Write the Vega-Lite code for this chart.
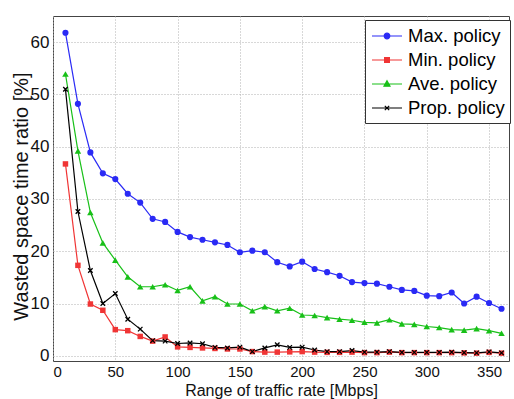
{
  "$schema": "https://vega.github.io/schema/vega-lite/v6.json",
  "width": 456,
  "height": 345,
  "autosize": {"type": "none"},
  "padding": {"left": 53, "top": 16, "right": 5, "bottom": 38},
  "background": "white",
  "config": {
    "font": "Liberation Sans",
    "view": {"stroke": "#444", "strokeWidth": 1},
    "axis": {
      "domain": false,
      "ticks": false,
      "gridColor": "#b0b0b0",
      "gridDash": [1, 2],
      "gridWidth": 1,
      "labelColor": "#111",
      "titleColor": "#111",
      "titleFontWeight": "normal"
    }
  },
  "datasets": {
    "rates": [
      {"x":10,"series":"Max. policy","y":61.8},{"x":20,"series":"Max. policy","y":48.2},{"x":30,"series":"Max. policy","y":38.9},{"x":40,"series":"Max. policy","y":34.9},{"x":50,"series":"Max. policy","y":33.8},{"x":60,"series":"Max. policy","y":31.0},{"x":70,"series":"Max. policy","y":29.3},{"x":80,"series":"Max. policy","y":26.2},{"x":90,"series":"Max. policy","y":25.6},{"x":100,"series":"Max. policy","y":23.7},{"x":110,"series":"Max. policy","y":22.7},{"x":120,"series":"Max. policy","y":22.2},{"x":130,"series":"Max. policy","y":21.7},{"x":140,"series":"Max. policy","y":21.2},{"x":150,"series":"Max. policy","y":19.8},{"x":160,"series":"Max. policy","y":20.1},{"x":170,"series":"Max. policy","y":19.8},{"x":180,"series":"Max. policy","y":17.9},{"x":190,"series":"Max. policy","y":17.1},{"x":200,"series":"Max. policy","y":18.0},{"x":210,"series":"Max. policy","y":16.6},{"x":220,"series":"Max. policy","y":16.0},{"x":230,"series":"Max. policy","y":15.3},{"x":240,"series":"Max. policy","y":14.1},{"x":250,"series":"Max. policy","y":13.9},{"x":260,"series":"Max. policy","y":13.8},{"x":270,"series":"Max. policy","y":13.2},{"x":280,"series":"Max. policy","y":12.6},{"x":290,"series":"Max. policy","y":12.4},{"x":300,"series":"Max. policy","y":11.5},{"x":310,"series":"Max. policy","y":11.4},{"x":320,"series":"Max. policy","y":12.1},{"x":330,"series":"Max. policy","y":10.0},{"x":340,"series":"Max. policy","y":11.3},{"x":350,"series":"Max. policy","y":10.1},{"x":360,"series":"Max. policy","y":9.0},
      {"x":10,"series":"Min. policy","y":36.7},{"x":20,"series":"Min. policy","y":17.3},{"x":30,"series":"Min. policy","y":9.9},{"x":40,"series":"Min. policy","y":8.7},{"x":50,"series":"Min. policy","y":5.0},{"x":60,"series":"Min. policy","y":4.8},{"x":70,"series":"Min. policy","y":3.7},{"x":80,"series":"Min. policy","y":2.8},{"x":90,"series":"Min. policy","y":3.6},{"x":100,"series":"Min. policy","y":1.7},{"x":110,"series":"Min. policy","y":1.6},{"x":120,"series":"Min. policy","y":1.5},{"x":130,"series":"Min. policy","y":1.4},{"x":140,"series":"Min. policy","y":1.3},{"x":150,"series":"Min. policy","y":1.3},{"x":160,"series":"Min. policy","y":0.8},{"x":170,"series":"Min. policy","y":0.7},{"x":180,"series":"Min. policy","y":0.7},{"x":190,"series":"Min. policy","y":0.75},{"x":200,"series":"Min. policy","y":0.8},{"x":210,"series":"Min. policy","y":0.7},{"x":220,"series":"Min. policy","y":0.65},{"x":230,"series":"Min. policy","y":0.65},{"x":240,"series":"Min. policy","y":0.7},{"x":250,"series":"Min. policy","y":0.6},{"x":260,"series":"Min. policy","y":0.6},{"x":270,"series":"Min. policy","y":0.7},{"x":280,"series":"Min. policy","y":0.6},{"x":290,"series":"Min. policy","y":0.6},{"x":300,"series":"Min. policy","y":0.6},{"x":310,"series":"Min. policy","y":0.6},{"x":320,"series":"Min. policy","y":0.6},{"x":330,"series":"Min. policy","y":0.55},{"x":340,"series":"Min. policy","y":0.5},{"x":350,"series":"Min. policy","y":0.65},{"x":360,"series":"Min. policy","y":0.5},
      {"x":10,"series":"Ave. policy","y":53.9},{"x":20,"series":"Ave. policy","y":39.2},{"x":30,"series":"Ave. policy","y":27.4},{"x":40,"series":"Ave. policy","y":21.6},{"x":50,"series":"Ave. policy","y":18.3},{"x":60,"series":"Ave. policy","y":15.1},{"x":70,"series":"Ave. policy","y":13.2},{"x":80,"series":"Ave. policy","y":13.2},{"x":90,"series":"Ave. policy","y":13.6},{"x":100,"series":"Ave. policy","y":12.5},{"x":110,"series":"Ave. policy","y":13.2},{"x":120,"series":"Ave. policy","y":10.5},{"x":130,"series":"Ave. policy","y":11.3},{"x":140,"series":"Ave. policy","y":9.9},{"x":150,"series":"Ave. policy","y":9.9},{"x":160,"series":"Ave. policy","y":8.6},{"x":170,"series":"Ave. policy","y":9.4},{"x":180,"series":"Ave. policy","y":8.6},{"x":190,"series":"Ave. policy","y":9.1},{"x":200,"series":"Ave. policy","y":7.8},{"x":210,"series":"Ave. policy","y":7.7},{"x":220,"series":"Ave. policy","y":7.3},{"x":230,"series":"Ave. policy","y":7.0},{"x":240,"series":"Ave. policy","y":6.8},{"x":250,"series":"Ave. policy","y":6.4},{"x":260,"series":"Ave. policy","y":6.3},{"x":270,"series":"Ave. policy","y":6.9},{"x":280,"series":"Ave. policy","y":6.1},{"x":290,"series":"Ave. policy","y":6.0},{"x":300,"series":"Ave. policy","y":5.6},{"x":310,"series":"Ave. policy","y":5.4},{"x":320,"series":"Ave. policy","y":5.0},{"x":330,"series":"Ave. policy","y":4.9},{"x":340,"series":"Ave. policy","y":5.2},{"x":350,"series":"Ave. policy","y":4.8},{"x":360,"series":"Ave. policy","y":4.3},
      {"x":10,"series":"Prop. policy","y":51.0},{"x":20,"series":"Prop. policy","y":27.6},{"x":30,"series":"Prop. policy","y":16.3},{"x":40,"series":"Prop. policy","y":10.0},{"x":50,"series":"Prop. policy","y":11.9},{"x":60,"series":"Prop. policy","y":7.0},{"x":70,"series":"Prop. policy","y":5.1},{"x":80,"series":"Prop. policy","y":2.9},{"x":90,"series":"Prop. policy","y":2.8},{"x":100,"series":"Prop. policy","y":2.35},{"x":110,"series":"Prop. policy","y":2.45},{"x":120,"series":"Prop. policy","y":2.3},{"x":130,"series":"Prop. policy","y":1.6},{"x":140,"series":"Prop. policy","y":1.5},{"x":150,"series":"Prop. policy","y":1.65},{"x":160,"series":"Prop. policy","y":0.8},{"x":170,"series":"Prop. policy","y":1.5},{"x":180,"series":"Prop. policy","y":2.1},{"x":190,"series":"Prop. policy","y":1.6},{"x":200,"series":"Prop. policy","y":1.65},{"x":210,"series":"Prop. policy","y":1.1},{"x":220,"series":"Prop. policy","y":0.8},{"x":230,"series":"Prop. policy","y":0.8},{"x":240,"series":"Prop. policy","y":1.0},{"x":250,"series":"Prop. policy","y":0.7},{"x":260,"series":"Prop. policy","y":0.7},{"x":270,"series":"Prop. policy","y":0.8},{"x":280,"series":"Prop. policy","y":0.65},{"x":290,"series":"Prop. policy","y":0.65},{"x":300,"series":"Prop. policy","y":0.65},{"x":310,"series":"Prop. policy","y":0.65},{"x":320,"series":"Prop. policy","y":0.7},{"x":330,"series":"Prop. policy","y":0.6},{"x":340,"series":"Prop. policy","y":0.55},{"x":350,"series":"Prop. policy","y":0.75},{"x":360,"series":"Prop. policy","y":0.55}
    ]
  },
  "data": {"name": "rates"},
  "encoding": {
    "x": {
      "field": "x", "type": "quantitative",
      "scale": {"domain": [0, 366], "nice": false, "zero": false},
      "axis": {"values": [0,50,100,150,200,250,300,350], "title": "Range of traffic rate [Mbps]", "labelFontSize": 15, "titleFontSize": 16, "labelPadding": 3, "titlePadding": 3}
    },
    "y": {
      "field": "y", "type": "quantitative",
      "scale": {"domain": [-1, 65], "nice": false, "zero": false},
      "axis": {"values": [0,10,20,30,40,50,60], "title": "Wasted space time ratio [%]", "labelFontSize": 17, "titleFontSize": 20, "labelPadding": 4, "titleX": -22, "titleY": 180, "titleBaseline": "bottom"}
    },
    "color": {
      "field": "series", "type": "nominal",
      "scale": {"domain": ["Max. policy","Min. policy","Ave. policy","Prop. policy"], "range": ["#2a2af5","#f03535","#18c018","#000000"]},
      "legend": {
        "title": null,
        "orient": "none",
        "legendX": 312,
        "legendY": 4,
        "direction": "vertical",
        "padding": 5,
        "fillColor": "white",
        "strokeColor": "#333",
        "labelFontSize": 18.5,
        "labelColor": "#000",
        "labelFont": "Liberation Sans",
        "symbolSize": 400,
        "symbolOffset": 6,
        "labelOffset": 10,
        "rowPadding": 3,
        "labelLimit": 300,
        "encode": {
          "symbols": {
            "update": {
              "shape": {"signal": "datum.value == 'Max. policy' ? 'M-1.5,0H1.5M-0.28,0A0.28,0.28 0 1,0 0.28,0A0.28,0.28 0 1,0 -0.28,0Z' : datum.value == 'Min. policy' ? 'M-1.5,0H1.5M-0.24,-0.24H0.24V0.24H-0.24Z' : datum.value == 'Ave. policy' ? 'M-1.5,0H1.5M0,-0.32L0.3,0.22L-0.3,0.22Z' : 'M-1.5,0H1.5M-0.22,-0.22L0.22,0.22M-0.22,0.22L0.22,-0.22'"},
              "fill": {"signal": "scale('color', datum.value)"},
              "stroke": {"signal": "scale('color', datum.value)"},
              "strokeWidth": {"value": 1.2},
              "opacity": {"value": 1}
            }
          }
        }
      }
    }
  },
  "layer": [
    {
      "mark": {"type": "line", "strokeWidth": 1.2}
    },
    {
      "transform": [{"filter": "datum.series == 'Max. policy'"}],
      "mark": {"type": "point", "shape": "circle", "filled": true, "size": 38, "opacity": 1}
    },
    {
      "transform": [{"filter": "datum.series == 'Min. policy'"}],
      "mark": {"type": "point", "shape": "square", "filled": true, "size": 30, "opacity": 1}
    },
    {
      "transform": [{"filter": "datum.series == 'Ave. policy'"}],
      "mark": {"type": "point", "shape": "triangle-up", "filled": true, "size": 42, "opacity": 1}
    },
    {
      "transform": [{"filter": "datum.series == 'Prop. policy'"}],
      "mark": {"type": "point", "shape": "M-0.75,-0.75L0.75,0.75M-0.75,0.75L0.75,-0.75", "filled": false, "size": 36, "strokeWidth": 1.3, "opacity": 1}
    }
  ]
}
